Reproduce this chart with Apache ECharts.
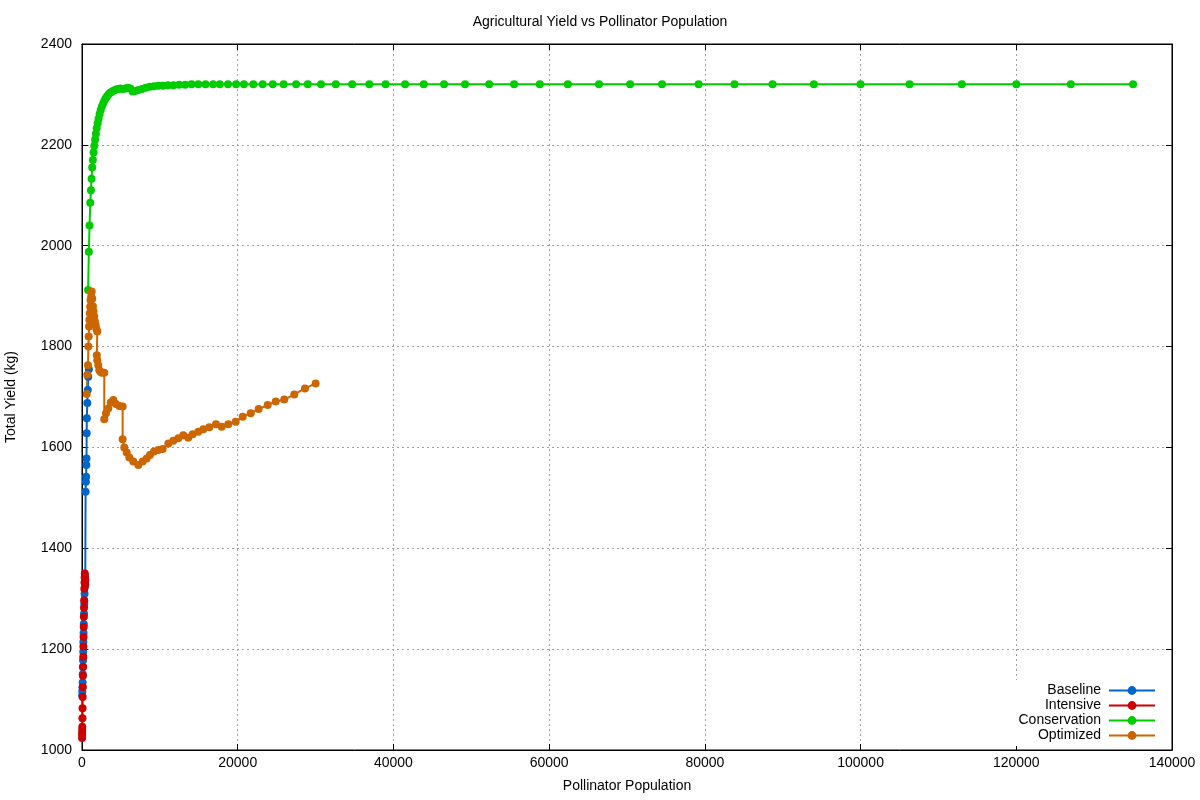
<!DOCTYPE html>
<html>
<head>
<meta charset="utf-8">
<script src="https://cdn.jsdelivr.net/npm/echarts@6/dist/echarts.min.js"></script>
<style>html,body{margin:0;padding:0;background:#fff}#c{width:1200px;height:800px}</style>
</head>
<body>
<div id="c"></div>
<script>
const chartTitle = 'Agricultural Yield vs Pollinator Population';
const xName = 'Pollinator Population';
const yName = 'Total Yield (kg)';
const seriesNames = ['Baseline', 'Intensive', 'Conservation', 'Optimized'];
const seriesColors = ['#0066cc', '#cc0000', '#00cc00', '#cc6600'];

const baseline = [
  [20,1108],[40,1116],[60,1124],[80,1134],[100,1150],[120,1164],[140,1178],[160,1195],
  [180,1214],[200,1232],[230,1250],[260,1270],[290,1290],[330,1310],[380,1324],[420,1336],
  [460,1512],[500,1532],[530,1542],[560,1565],[580,1578],[600,1628],[620,1658],[680,1688],
  [740,1714],[800,1740],[880,1755]
];
const intensive = [
  [10,1024],[15,1030],[20,1034],[30,1040],[40,1046],[55,1063],[70,1083],[85,1105],
  [100,1125],[120,1147],[140,1165],[160,1185],[180,1205],[200,1224],[220,1244],[240,1264],
  [260,1282],[280,1297],[300,1320],[320,1332],[340,1342],[360,1350],[380,1345],[400,1338],[420,1328]
];
const conservation = [
  [780,1912],[880,1988],[970,2040],[1060,2085],[1150,2110],[1230,2133],[1310,2155],[1400,2170],
  [1490,2185],[1580,2198],[1680,2210],[1780,2222],[1890,2233],[2010,2243],[2130,2252],[2260,2261],
  [2400,2269],[2550,2276],[2720,2282],[2880,2288],[3060,2293],[3250,2297],[3440,2301],[3660,2304],
  [3880,2306],[4120,2308],[4380,2310],[4650,2311],[4940,2312],[5240,2311],[5560,2312],[5900,2313],
  [6200,2312],[6500,2306],[6840,2307],[7260,2309],[7710,2311],[8190,2313],[8700,2315],
  [9240,2316],[9810,2317],[10420,2317],[11060,2318],[11750,2318],[12470,2319],[13250,2319],[14070,2320],
  [14940,2320],[15870,2320],[16850,2320],[17700,2320],[18750,2320],[19800,2320],[20800,2320],[22000,2320],
  [23200,2320],[24500,2320],[25900,2320],[27500,2320],[29000,2320],[30700,2320],[32600,2320],[34700,2320],
  [36900,2320],[39000,2320],[41500,2320],[43900,2320],[46500,2320],[49200,2320],[52300,2320],[55500,2320],
  [58800,2320],[62400,2320],[66400,2320],[70400,2320],[74500,2320],[79200,2320],[83800,2320],[88700,2320],
  [94000,2320],[100000,2320],[106300,2320],[113000,2320],[120000,2320],[127000,2320],[135000,2320]
];
const optimized = [
  [600,1706],[680,1744],[770,1763],[820,1800],[860,1820],[900,1840],[950,1853],[1000,1866],
  [1050,1879],[1100,1892],[1180,1900],[1250,1909],[1320,1895],[1400,1880],[1480,1870],[1560,1860],
  [1650,1850],[1750,1843],[1850,1835],[1965,1830],[1900,1783],[1965,1773],[2090,1763],[2220,1753],
  [2380,1750],[2530,1748],[2860,1748],[2860,1656],[3080,1668],[3380,1677],[3690,1689],[4020,1694],
  [4370,1686],[4790,1682],[5220,1681],[5220,1616],[5430,1600],[5740,1590],[6080,1580],[6590,1572],
  [7230,1565],[7790,1572],[8310,1578],[8730,1585],[9250,1592],[9800,1595],[10360,1597],[11090,1608],
  [11730,1613],[12370,1618],[13010,1624],[13650,1619],[14220,1626],[14940,1631],[15580,1636],[16350,1640],
  [17210,1646],[17940,1641],[18790,1646],[19740,1651],[20640,1661],[21670,1668],[22690,1676],[23850,1684],
  [24880,1691],[25980,1695],[27270,1705],[28640,1717],[30010,1727]
];
const seriesData = [baseline, intensive, conservation, optimized];

const xMin = 0, xMax = 140000, xStep = 20000;
const yMin = 1000, yMax = 2400, yStep = 200;

const font = 'Liberation Sans, Arial, sans-serif';
const chart = echarts.init(document.getElementById('c'), null, {renderer: 'canvas'});
const gridLine = {show: true, lineStyle: {color: '#a0a0a0', type: [2, 3], width: 1}};
const tick = {show: true, inside: true, length: 6, lineStyle: {color: '#000', width: 1}};
const axLine = {show: true, onZero: false, lineStyle: {color: '#000', width: 1}};
const plain = v => String(v);

chart.setOption({
  backgroundColor: '#fff',
  animation: false,
  title: {
    text: chartTitle, left: 'center', top: 10,
    textStyle: {fontFamily: font, fontSize: 14, fontWeight: 'normal', color: '#000'}
  },
  grid: {left: 82, right: 28, top: 44, bottom: 50, containLabel: false, outerBoundsMode: 'none',
         show: true, borderColor: '#000', borderWidth: 1, backgroundColor: 'transparent'},
  legend: {
    orient: 'vertical', right: 40, bottom: 54, align: 'right',
    itemWidth: 46, itemHeight: 11, itemGap: 0,
    backgroundColor: '#fff', padding: [3, 4, 3, 4],
    textStyle: {fontFamily: font, fontSize: 14, lineHeight: 15, color: '#000', padding: [0, 3, 0, 0]},
    data: seriesNames
  },
  xAxis: [{
    type: 'value', min: xMin, max: xMax, interval: xStep, position: 'bottom',
    name: xName, nameLocation: 'middle', nameGap: 29,
    nameTextStyle: {fontFamily: font, fontSize: 14, color: '#000'},
    axisLine: axLine, axisTick: tick, splitLine: gridLine,
    axisLabel: {fontFamily: font, fontSize: 14, color: '#000', margin: 6, formatter: plain}
  }, {
    type: 'value', min: xMin, max: xMax, interval: xStep, position: 'top',
    axisLine: axLine, axisTick: tick, splitLine: {show: false}, axisLabel: {show: false}
  }],
  yAxis: [{
    type: 'value', min: yMin, max: yMax, interval: yStep, position: 'left',
    name: yName, nameLocation: 'middle', nameGap: 64, nameRotate: 90,
    nameTextStyle: {fontFamily: font, fontSize: 14, color: '#000'},
    axisLine: axLine, axisTick: tick, splitLine: gridLine,
    axisLabel: {fontFamily: font, fontSize: 14, color: '#000', margin: 10, formatter: plain}
  }, {
    type: 'value', min: yMin, max: yMax, interval: yStep, position: 'right',
    axisLine: axLine, axisTick: tick, splitLine: {show: false}, axisLabel: {show: false}
  }],
  series: seriesNames.map((n, i) => ({
    name: n, type: 'line', xAxisIndex: 0, yAxisIndex: 0,
    data: seriesData[i], showSymbol: true, symbol: 'circle', symbolSize: 8,
    color: seriesColors[i],
    itemStyle: {color: seriesColors[i]},
    lineStyle: {color: seriesColors[i], width: 2},
    emphasis: {disabled: true}
  }))
});
</script>
</body>
</html>
